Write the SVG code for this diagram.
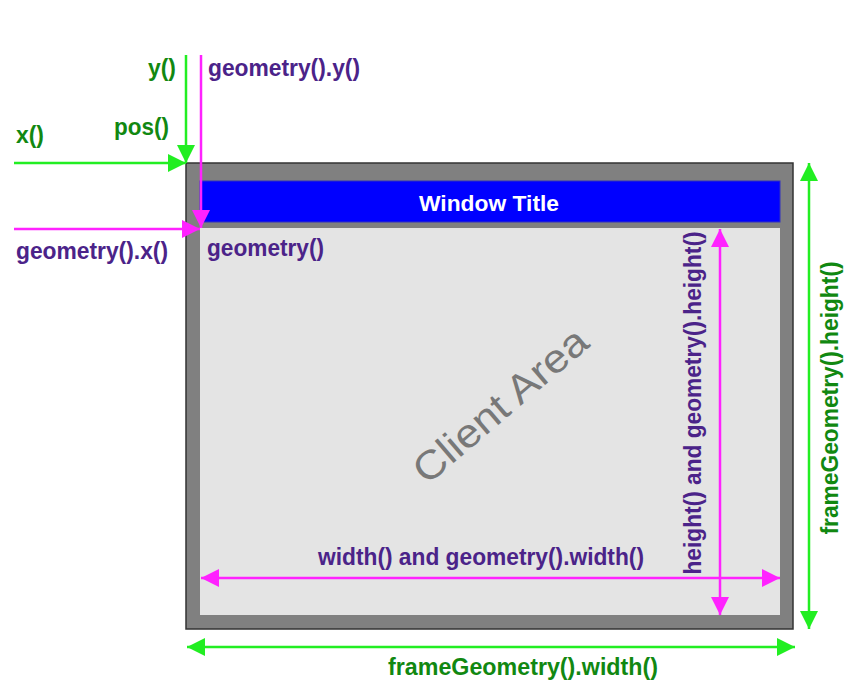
<svg xmlns="http://www.w3.org/2000/svg" width="859" height="695" viewBox="0 0 859 695">
<defs>
<marker id="ag" markerUnits="userSpaceOnUse" markerWidth="19" markerHeight="18" refX="18" refY="9" orient="auto-start-reverse"><path d="M0,0 L18,9 L0,18 Z" fill="#22ee22"/></marker>
<marker id="am" markerUnits="userSpaceOnUse" markerWidth="19" markerHeight="18" refX="18" refY="9" orient="auto-start-reverse"><path d="M0,0 L18,9 L0,18 Z" fill="#ff22ff"/></marker>
</defs>
<style>
text{font-family:"Liberation Sans",Arial,sans-serif;font-weight:bold;font-size:24px}
.g{fill:#118811}
.p{fill:#4b2389}
.lg{stroke:#22ee22;stroke-width:2.5;fill:none}
.lm{stroke:#ff22ff;stroke-width:2.5;fill:none}
</style>
<rect width="859" height="695" fill="#ffffff"/>
<g id="frame">
<rect x="186" y="163" width="607" height="466" fill="#808080" stroke="#333333" stroke-width="1.5"/>
</g>
<g id="title-bar">
<rect x="200" y="181" width="580" height="41" fill="#0000ff" stroke="#3030c0" stroke-width="1"/>
<text x="489" y="211" text-anchor="middle" fill="#ffffff" style="font-size:22px" textLength="140" lengthAdjust="spacingAndGlyphs">Window Title</text>
</g>
<g id="client-area">
<rect x="200" y="228" width="580" height="387" fill="#e4e4e4"/>
<text x="0" y="0" transform="translate(500,405) rotate(-40.5)" text-anchor="middle" dominant-baseline="central" fill="#787878" style="font-weight:normal;font-size:40px" textLength="216" lengthAdjust="spacingAndGlyphs">Client Area</text>
<text x="207" y="256" class="p" textLength="117" lengthAdjust="spacingAndGlyphs">geometry()</text>
</g>
<g id="connectors">
<line x1="186" y1="55" x2="186" y2="163" class="lg" marker-end="url(#ag)"/>
<line x1="14" y1="163" x2="186" y2="163" class="lg" marker-end="url(#ag)"/>
<line x1="201" y1="55" x2="201" y2="228" class="lm" marker-end="url(#am)"/>
<line x1="14" y1="229" x2="200" y2="229" class="lm" marker-end="url(#am)"/>
<line x1="201" y1="578" x2="780" y2="578" class="lm" marker-start="url(#am)" marker-end="url(#am)"/>
<line x1="720" y1="229" x2="720" y2="615" class="lm" marker-start="url(#am)" marker-end="url(#am)"/>
<line x1="187" y1="647" x2="795" y2="647" class="lg" marker-start="url(#ag)" marker-end="url(#ag)"/>
<line x1="809" y1="163" x2="809" y2="629" class="lg" marker-start="url(#ag)" marker-end="url(#ag)"/>
</g>
<g id="labels">
<text x="148" y="76" class="g" textLength="28" lengthAdjust="spacingAndGlyphs">y()</text>
<text x="208" y="76" class="p" textLength="152" lengthAdjust="spacingAndGlyphs">geometry().y()</text>
<text x="16" y="143" class="g" textLength="28" lengthAdjust="spacingAndGlyphs">x()</text>
<text x="114" y="135" class="g" textLength="55" lengthAdjust="spacingAndGlyphs">pos()</text>
<text x="16" y="259" class="p" textLength="152" lengthAdjust="spacingAndGlyphs">geometry().x()</text>
<text x="318" y="565" class="p" textLength="326" lengthAdjust="spacingAndGlyphs">width() and geometry().width()</text>
<text x="388" y="675" class="g" textLength="270" lengthAdjust="spacingAndGlyphs">frameGeometry().width()</text>
<text x="0" y="0" transform="translate(701,403) rotate(-90)" text-anchor="middle" class="p" textLength="343" lengthAdjust="spacingAndGlyphs">height() and geometry().height()</text>
<text x="0" y="0" transform="translate(838,398) rotate(-90)" text-anchor="middle" class="g" textLength="273" lengthAdjust="spacingAndGlyphs">frameGeometry().height()</text>
</g>
</svg>
